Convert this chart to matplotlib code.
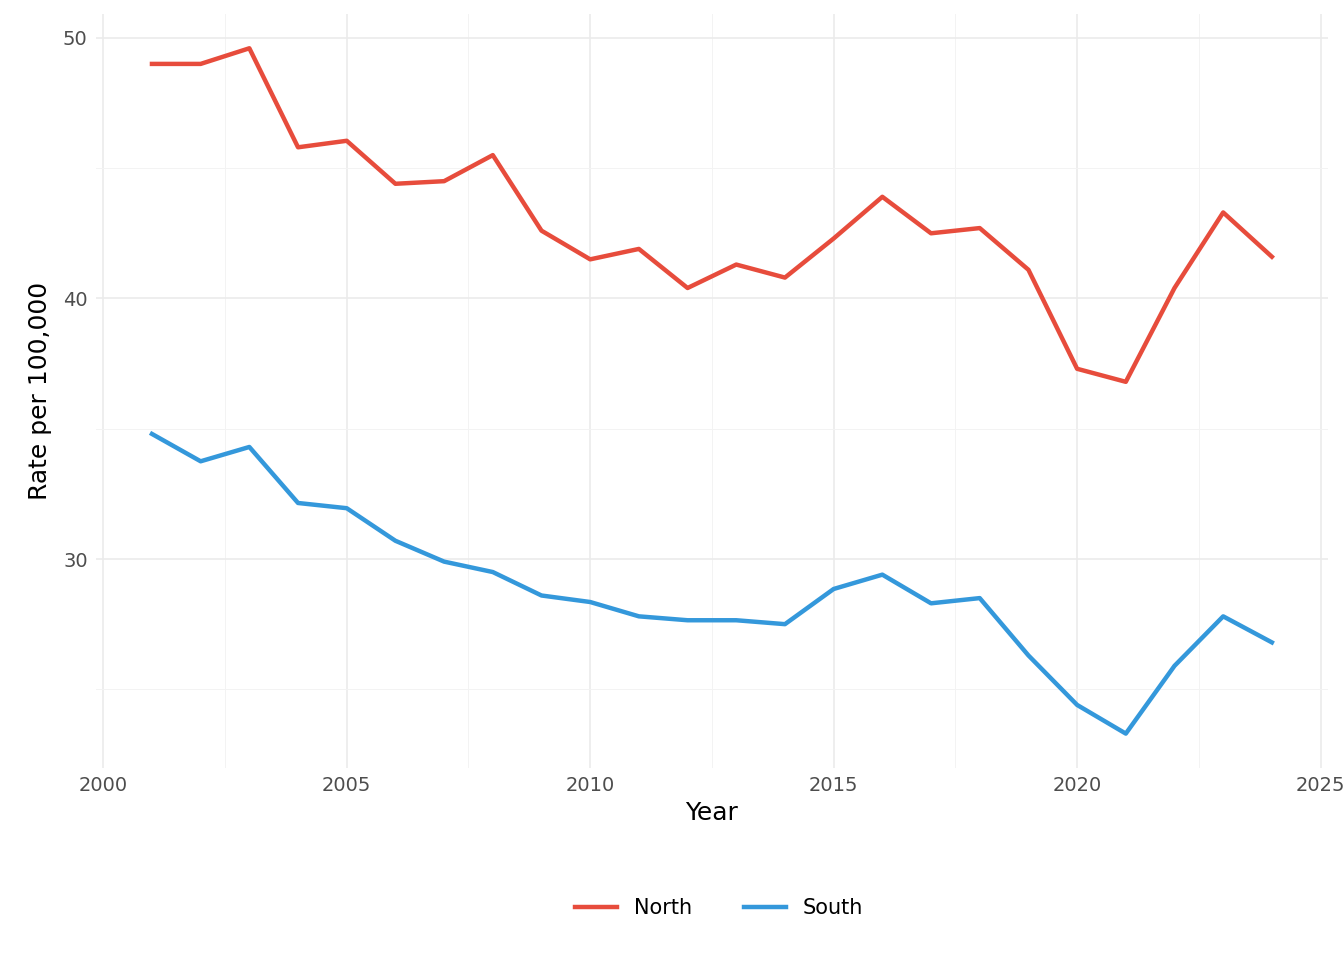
import numpy as np
import matplotlib.pyplot as plt
from matplotlib.ticker import MultipleLocator

years = list(range(2001, 2025))
north = [49.0, 49.0, 49.6, 45.8, 46.05, 44.4, 44.5, 45.5, 42.6, 41.5, 41.9, 40.4,
         41.3, 40.8, 42.3, 43.9, 42.5, 42.7, 41.1, 37.3, 36.8, 40.4, 43.3, 41.6]
south = [34.8, 33.75, 34.3, 32.15, 31.95, 30.7, 29.9, 29.5, 28.6, 28.35, 27.8, 27.65,
         27.65, 27.5, 28.85, 29.4, 28.3, 28.5, 26.3, 24.4, 23.3, 25.9, 27.8, 26.8]

fig = plt.figure(figsize=(13.44, 9.6), dpi=100)
ax = fig.add_axes([0.0714, 0.2, 0.9166, 0.785])

l1, = ax.plot(years, north, color='#E74C3C', lw=3.2, label='North')
l2, = ax.plot(years, south, color='#3498DB', lw=3.2, label='South')

ax.set_xlim(1999.85, 2025.15)
ax.set_ylim(21.98, 50.9)
ax.xaxis.set_major_locator(MultipleLocator(5))
ax.xaxis.set_minor_locator(MultipleLocator(2.5))
ax.yaxis.set_major_locator(MultipleLocator(10))
ax.yaxis.set_minor_locator(MultipleLocator(5))
ax.grid(which='major', color='#EBEBEB', lw=1.2)
ax.grid(which='minor', color='#F3F3F3', lw=0.7)
ax.set_axisbelow(True)
for s in ax.spines.values():
    s.set_visible(False)
ax.tick_params(which='both', length=0, labelsize=14, labelcolor='#4D4D4D', pad=6)
ax.set_xlabel('Year', fontsize=18, labelpad=4)
ax.set_ylabel('Rate per 100,000', fontsize=18, labelpad=8)

fig.legend(handles=[l1, l2], loc='center', bbox_to_anchor=(0.535, 0.054), ncol=2,
           frameon=False, fontsize=15, handlelength=2, columnspacing=2.5)

fig.savefig('out.png', dpi=100)
